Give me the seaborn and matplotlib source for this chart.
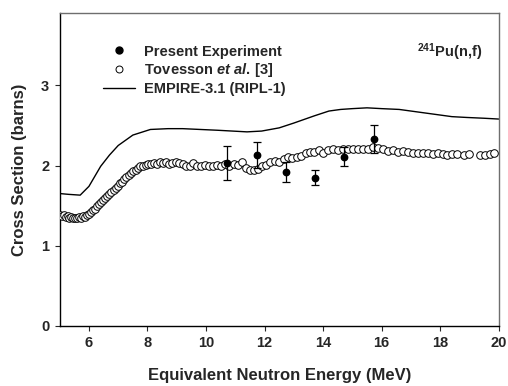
import numpy as np
import pandas as pd
import matplotlib
matplotlib.use("Agg")
import matplotlib.pyplot as plt
from matplotlib.lines import Line2D
import seaborn as sns

# Tovesson et al. [3] (open circles)
tov_energy = [5.02, 5.08, 5.14, 5.20, 5.27, 5.33, 5.40, 5.46, 5.53, 5.60, 5.66, 5.73,
              5.80, 5.86, 5.93, 6.00, 6.07, 6.14, 6.21, 6.28, 6.35, 6.42, 6.49, 6.56,
              6.63, 6.70, 6.77, 6.84, 6.91, 6.98, 7.05, 7.12, 7.20, 7.28, 7.36, 7.44,
              7.52, 7.60, 7.68, 7.76, 7.85, 7.94, 8.03, 8.12, 8.22, 8.32, 8.42, 8.52,
              8.63, 8.74, 8.85, 8.96, 9.08, 9.20, 9.32, 9.44, 9.57, 9.70, 9.83, 9.96,
              10.10, 10.24, 10.38, 10.52, 10.66, 10.80, 10.94, 11.08, 11.22, 11.36, 11.50, 11.64,
              11.78, 11.92, 12.06, 12.20, 12.35, 12.50, 12.65, 12.80, 12.95, 13.10, 13.25, 13.40,
              13.55, 13.70, 13.85, 14.00, 14.17, 14.34, 14.51, 14.68, 14.85, 15.02, 15.19, 15.36,
              15.53, 15.70, 15.87, 16.04, 16.21, 16.38, 16.55, 16.72, 16.89, 17.06, 17.23, 17.40,
              17.57, 17.74, 17.91, 18.08, 18.25, 18.42, 18.59, 18.80, 19.00, 19.35, 19.52, 19.69,
              19.85]
tov_xs = [1.38, 1.37, 1.38, 1.36, 1.37, 1.35, 1.36, 1.34, 1.35, 1.34, 1.36, 1.35,
          1.37, 1.36, 1.38, 1.40, 1.42, 1.44, 1.46, 1.49, 1.52, 1.55, 1.57, 1.60,
          1.62, 1.65, 1.67, 1.70, 1.72, 1.75, 1.78, 1.80, 1.83, 1.86, 1.88, 1.91,
          1.93, 1.95, 1.97, 1.99, 2.00, 2.01, 2.02, 2.02, 2.03, 2.02, 2.04, 2.03,
          2.04, 2.02, 2.03, 2.05, 2.03, 2.02, 1.99, 2.00, 2.03, 1.99, 2.00, 2.01,
          1.99, 2.00, 2.01, 1.99, 2.02, 2.00, 2.02, 2.01, 2.05, 1.97, 1.94, 1.95,
          1.96, 1.99, 2.01, 2.04, 2.06, 2.05, 2.08, 2.10, 2.09, 2.11, 2.12, 2.15,
          2.17, 2.17, 2.19, 2.16, 2.19, 2.20, 2.19, 2.20, 2.20, 2.21, 2.20, 2.20,
          2.21, 2.23, 2.22, 2.21, 2.18, 2.19, 2.17, 2.18, 2.17, 2.16, 2.16, 2.15,
          2.15, 2.14, 2.15, 2.14, 2.13, 2.14, 2.14, 2.13, 2.14, 2.13, 2.13, 2.14,
          2.16]

# Present experiment (filled circles with error bars)
exp_energy = [10.70, 11.73, 12.73, 13.72, 14.73, 15.74]
exp_xs = [2.03, 2.13, 1.92, 1.85, 2.11, 2.33]
exp_err = [0.21, 0.16, 0.12, 0.09, 0.12, 0.17]

# EMPIRE-3.1 (RIPL-1) calculation
emp_energy = [5.0, 5.3, 5.7, 6.0, 6.4, 6.7, 7.0, 7.5, 8.1, 8.7, 9.2, 9.8,
              10.4, 10.9, 11.4, 11.9, 12.5, 13.0, 13.7, 14.2, 14.6, 15.0, 15.5,
              16.0, 16.6, 17.2, 17.8, 18.4, 18.9, 19.5, 20.0]
emp_xs = [1.65, 1.64, 1.63, 1.74, 1.99, 2.13, 2.25, 2.38, 2.45, 2.46, 2.46, 2.45,
          2.44, 2.43, 2.42, 2.43, 2.47, 2.53, 2.62, 2.68, 2.70, 2.71, 2.72,
          2.71, 2.70, 2.67, 2.64, 2.61, 2.60, 2.59, 2.58]

sns.set_style("ticks")
plt.rcParams["font.family"] = ["Liberation Sans", "DejaVu Sans"]
plt.rcParams["font.weight"] = "bold"
plt.rcParams["mathtext.fontset"] = "custom"
plt.rcParams["mathtext.rm"] = "Liberation Sans:bold"
plt.rcParams["mathtext.it"] = "Liberation Sans:bold:italic"

tov = pd.DataFrame({"energy": tov_energy, "xs": tov_xs})
emp = pd.DataFrame({"energy": emp_energy, "xs": emp_xs})

fig = plt.figure(figsize=(5.08, 3.86), dpi=100)
ax = fig.add_axes([0.1175, 0.1562, 0.8642, 0.8093])

sns.lineplot(data=emp, x="energy", y="xs", ax=ax, color="black", linewidth=1.0,
             zorder=2)
sns.scatterplot(data=tov, x="energy", y="xs", ax=ax, s=30, marker="o",
                facecolor="white", edgecolor="black", linewidth=0.7, zorder=3)
ax.errorbar(exp_energy, exp_xs, yerr=exp_err, fmt="o", color="black",
            markersize=4.6, elinewidth=0.9, capsize=3, capthick=0.9, zorder=4)

ax.set_xlim(5, 20)
ax.set_ylim(0, 3.9)
ax.set_xticks([6, 8, 10, 12, 14, 16, 18, 20])
ax.set_yticks([0, 1, 2, 3])
ax.tick_params(direction="out", length=3.5, width=0.8, labelsize=10.5, pad=4)
for lbl in ax.get_xticklabels() + ax.get_yticklabels():
    lbl.set_fontweight("bold")

for side in ["left", "bottom"]:
    ax.spines[side].set_color("black")
    ax.spines[side].set_linewidth(1.0)
for side in ["top", "right"]:
    ax.spines[side].set_visible(True)
    ax.spines[side].set_color("#6e6e6e")
    ax.spines[side].set_linewidth(1.0)

ax.set_xlabel("Equivalent Neutron Energy (MeV)", fontsize=12, fontweight="bold",
              labelpad=13)
ax.set_ylabel("Cross Section (barns)", fontsize=12, fontweight="bold", labelpad=10)

handles = [
    Line2D([], [], marker="o", linestyle="none", color="black", markersize=5),
    Line2D([], [], marker="o", linestyle="none", markerfacecolor="white",
           markeredgecolor="black", markeredgewidth=0.7, markersize=5),
    Line2D([], [], color="black", linewidth=1.0),
]
labels = ["Present Experiment", r"Tovesson $\mathit{et\ al.}\,$[3]", "EMPIRE-3.1 (RIPL-1)"]
leg = ax.legend(handles, labels, loc="upper left", bbox_to_anchor=(0.098, 0.9),
                frameon=False, fontsize=10.5, borderpad=0, borderaxespad=0,
                handlelength=2.2, handletextpad=0.6, labelspacing=0.2)
for t in leg.get_texts():
    t.set_fontweight("bold")

ax.text(0.962, 0.877, r"$^{241}$Pu(n,f)", transform=ax.transAxes, ha="right",
        va="center", fontsize=10.5, fontweight="bold")

plt.savefig("out.png", dpi=100)
